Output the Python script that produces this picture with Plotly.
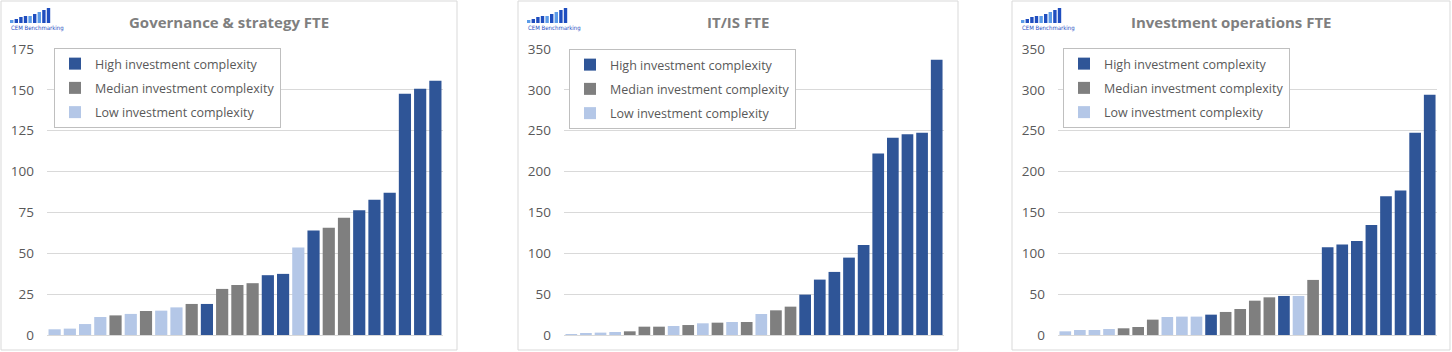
import plotly.graph_objects as go

W, H = 1452, 352

positions = list(range(1, 27))

panel_titles = ["Governance &amp; strategy FTE", "IT/IS FTE", "Investment operations FTE"]
series_names = ["High investment complexity", "Median investment complexity", "Low investment complexity"]
series_codes = ["H", "M", "L"]

gov_values = [3.5, 3.9, 6.7, 11.0, 12.0, 12.9, 14.7, 14.9, 16.9, 19.0, 19.0, 28.2, 30.6,
              31.7, 36.6, 37.4, 53.5, 63.9, 65.6, 71.7, 76.4, 82.7, 87.0, 147.6, 150.7, 155.6]
gov_groups = list("LLLLMLMLLMHMMMHHLHMMHHHHHH")

it_values = [0.5, 1.6, 2.9, 3.7, 4.5, 10.2, 10.2, 11.0, 12.2, 14.3, 15.1, 15.9, 15.9,
             25.7, 30.2, 34.7, 49.4, 67.8, 77.2, 94.7, 110.2, 222.1, 241.3, 245.8, 247.4, 336.9]
it_groups = list("LLLLMMMLMLMLMLMMHHHHHHHHHH")

ops_values = [4.5, 6.1, 6.1, 7.3, 8.2, 9.8, 18.8, 22.0, 22.5, 22.5, 24.9, 28.2, 31.8,
              42.0, 46.1, 47.8, 47.8, 67.4, 107.4, 110.7, 115.1, 134.7, 169.9, 176.8, 247.4, 294.0]
ops_groups = list("LLLLMMMLLLHMMMMHLMHHHHHHHH")

y_max = [175, 350, 350]
y_step = [25, 50, 50]

colors = {"H": "#2F5597", "M": "#7F7F7F", "L": "#B4C7E7"}

# layout geometry (pixels)
panel_box = [(1, 1, 457, 350), (518, 1, 958, 350), (1012, 1, 1450, 350)]
plot_x = [(47, 443), (564, 944), (1058, 1437)]
plot_y = (49, 335)
legend_pos = [(54, 48), (569, 49), (1063, 48)]

def px(x):
    return x / W

def py(y):
    return 1 - y / H

FONT = "Open Sans"
TXT = "#595959"

fig = go.Figure()
data = [(gov_values, gov_groups), (it_values, it_groups), (ops_values, ops_groups)]

for p, (vals, groups) in enumerate(data):
    ax = "" if p == 0 else str(p + 1)
    leg = "legend" if p == 0 else f"legend{p + 1}"
    for code, name in zip(series_codes, series_names):
        xs = [positions[i] for i in range(len(vals)) if groups[i] == code]
        ys = [vals[i] for i in range(len(vals)) if groups[i] == code]
        fig.add_trace(go.Bar(
            x=xs, y=ys, name=name,
            marker=dict(color=colors[code], line=dict(width=0)),
            xaxis="x" + ax, yaxis="y" + ax,
            legend=leg, legendgroup=f"{p}{code}",
            hoverinfo="skip",
        ))

layout = dict(
    width=W, height=H,
    margin=dict(l=0, r=0, t=0, b=0, pad=0, autoexpand=False),
    paper_bgcolor="white", plot_bgcolor="white",
    barmode="overlay", bargap=0.2,
    font=dict(family=FONT, color=TXT),
    showlegend=True,
)

shapes = []
annotations = []

for p in range(3):
    ax = "" if p == 0 else str(p + 1)
    x0, x1 = plot_x[p]
    layout["xaxis" + ax] = dict(
        domain=[px(x0), px(x1)], range=[0.5, 26.5], anchor="y" + ax,
        showticklabels=False, ticks="", showgrid=False, zeroline=False,
        showline=True, linecolor="#D9D9D9", linewidth=1, automargin=False,
    )
    layout["yaxis" + ax] = dict(
        domain=[py(plot_y[1]), py(plot_y[0])], range=[0, y_max[p]], anchor="x" + ax,
        dtick=y_step[p], tick0=0, showgrid=True, gridcolor="#D9D9D9", gridwidth=1,
        zeroline=False, showline=False, ticks="", automargin=False,
        tickfont=dict(family=FONT, size=13.5, color=TXT), ticklabelstandoff=12,
    )
    leg = "legend" if p == 0 else f"legend{p + 1}"
    lx, ly = legend_pos[p]
    layout[leg] = dict(
        x=px(lx), y=py(ly), xanchor="left", yanchor="top",
        bgcolor="white", bordercolor="#BFBFBF", borderwidth=1,
        font=dict(family=FONT, size=12.5, color=TXT),
        traceorder="grouped", tracegroupgap=5,
        itemclick=False, itemdoubleclick=False,
        entrywidth=206, entrywidthmode="pixels",
    )
    bx0, by0, bx1, by1 = panel_box[p]
    shapes.append(dict(type="rect", xref="paper", yref="paper",
                       x0=px(bx0), x1=px(bx1), y0=py(by1), y1=py(by0),
                       line=dict(color="#D9D9D9", width=1), fillcolor="rgba(0,0,0,0)", layer="below"))
    annotations.append(dict(
        text=f"<b>{panel_titles[p]}</b>", xref="paper", yref="paper",
        x=px((bx0 + bx1) / 2), y=py(22), xanchor="center", yanchor="middle",
        showarrow=False, font=dict(family=FONT, size=15, color="#7F7F7F"),
    ))
    # small logo decoration
    lx0 = bx0 + 8
    heights = [3, 4, 6, 7, 7, 9, 11, 13, 15]
    logo_cols = ["#5B9BE8", "#1F4EBF", "#1F4EBF", "#1F4EBF", "#5B9BE8", "#1F4EBF", "#5B9BE8", "#1F4EBF", "#1F4EBF"]
    for i, (h, c) in enumerate(zip(heights, logo_cols)):
        bx = lx0 + 1 + i * 4.6
        shapes.append(dict(type="rect", xref="paper", yref="paper",
                           x0=px(bx), x1=px(bx + 3.4), y0=py(23), y1=py(23 - h),
                           line=dict(width=0), fillcolor=c))
    annotations.append(dict(
        text="CEM Benchmarking", xref="paper", yref="paper",
        x=px(lx0), y=py(28), xanchor="left", yanchor="middle", showarrow=False,
        font=dict(family="DejaVu Sans Condensed, Liberation Sans Narrow, sans-serif", size=6, color="#1F4EBF"),
    ))

layout["shapes"] = shapes
layout["annotations"] = annotations
fig.update_layout(**layout)

fig.write_html("out.html", config={"displayModeBar": False},
               post_script="document.body.style.margin='0';document.body.style.overflow='hidden';")
